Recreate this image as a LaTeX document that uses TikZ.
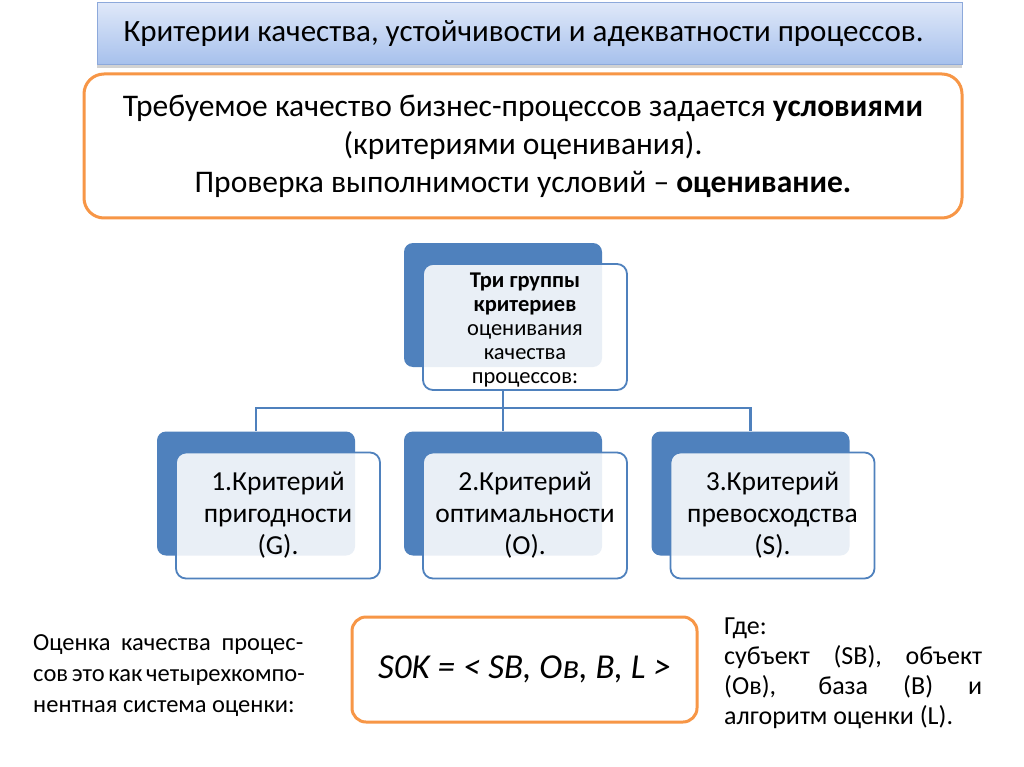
\documentclass[tikz,border=0pt]{standalone}
\usepackage{fontspec}
\setmainfont{Carlito}
\usetikzlibrary{shadows}

\definecolor{boxblue}{HTML}{4F81BD}
\definecolor{frameorange}{HTML}{F79646}
\definecolor{titletop}{HTML}{DFE8F9}
\definecolor{titlebottom}{HTML}{A6C0EC}
\definecolor{titleline}{HTML}{8DA9DB}

\begin{document}
\begin{tikzpicture}[x=1pt, y=-1pt,
	titlebox/.style = {draw=titleline, line width=1pt, top color=titletop, bottom color=titlebottom,
		minimum width=865pt, minimum height=62pt, inner sep=0pt,
		drop shadow={opacity=.35, shadow xshift=0pt, shadow yshift=-3pt}},
	frame/.style = {draw=frameorange, line width=3pt, fill=white, inner sep=0pt, align=center},
	back/.style = {fill=boxblue, rounded corners=9pt, minimum width=198pt, minimum height=124pt, inner sep=0pt},
	front/.style = {draw=boxblue, line width=1.8pt, rounded corners=10pt, fill=white, fill opacity=.88,
		text opacity=1, minimum width=204pt, minimum height=126pt, inner sep=0pt, align=center},
	link/.style = {draw=boxblue, line width=2.2pt}
	]

	\useasboundingbox [fill=white] (0,0) rectangle (1024,767);

	\node [titlebox] (title) at (529.5,34) {};
	\node [font=\fontsize{31}{36}\selectfont] (titletext) at (523.5,34)
		{Критерии качества, устойчивости и адекватности процессов.};

	\node [frame, rounded corners=20pt, minimum width=878pt, minimum height=144pt,
		font=\fontsize{31.5}{38}\selectfont] (cond) at (523,146)
		{Требуемое качество бизнес-процессов задается \textbf{условиями}\\
		(критериями оценивания).\\
		Проверка выполнимости условий – \textbf{оценивание.}};

	% blocks of the hierarchy
	\node [back] (b0) at (503,305) {};
	\node [front] (f0) at ([shift={(22,22)}]b0) {};
	\node [align=center, font=\fontsize{22.5}{23.8}\selectfont] (t0) at ([yshift=-3pt]f0.center)
		{\textbf{Три группы}\\ \textbf{критериев}\\ оценивания\\ качества\\ процессов:};

	\foreach \i/\x/\txt in {1/256/{1.Критерий\\ пригодности\\ (G).},
			2/503/{2.Критерий\\ оптимальности\\ (O).},
			3/750.5/{3.Критерий\\ превосходства\\ (S).}}
	{
		\node [back] (b\i) at (\x,493.5) {};
		\node [front, font=\fontsize{27.5}{32}\selectfont] (f\i) at ([shift={(22,22)}]b\i) {\txt};
	}

	\coordinate (bar) at (503,408);
	\draw [link] (b0 |- f0.south) -- (bar);
	\foreach \i in {1,2,3} \draw [link] (bar) -| (b\i.north);

	% bottom row
	\node [anchor=west, align=left, inner sep=0pt,
		font=\fontsize{24.5}{31}\selectfont] (eval) at (33,676)
		{\makebox[270pt][s]{Оценка качества процес-}\\
		\makebox[270pt][s]{сов это как четырехкомпо-}\\
		нентная система оценки:};

	\node [frame, rounded corners=14pt, minimum width=345pt, minimum height=105pt,
		font=\fontsize{35}{40}\selectfont\itshape] (sok) at (524.5,669.5)
		{S0K = < SB, Ов, B, L >};

	\node [anchor=north west, text width=258pt, align=justify, inner sep=0pt,
		font=\fontsize{26}{30}\selectfont] (where) at (724,618)
		{Где:\\ субъект (SB), объект\linebreak (Ов), база (В) и\linebreak алгоритм оценки (L).};

\end{tikzpicture}
\end{document}
